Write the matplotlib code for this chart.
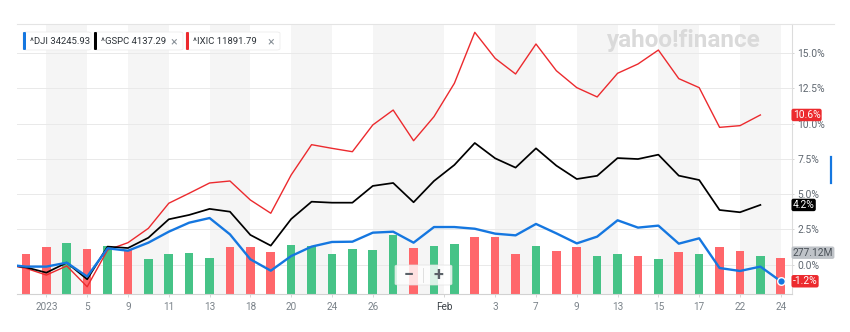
import numpy as np
import matplotlib
matplotlib.use("Agg")
import matplotlib.pyplot as plt
from matplotlib.patches import FancyBboxPatch
from matplotlib.lines import Line2D
import matplotlib.transforms as mtransforms

plt.rcParams['font.family'] = ['Roboto', 'DejaVu Sans']

# ---------------- data ----------------
dates = np.array([
    '2022-12-30', '2023-01-03', '2023-01-04', '2023-01-05', '2023-01-06', '2023-01-09',
    '2023-01-10', '2023-01-11', '2023-01-12', '2023-01-13', '2023-01-17', '2023-01-18',
    '2023-01-19', '2023-01-20', '2023-01-23', '2023-01-24', '2023-01-25', '2023-01-26',
    '2023-01-27', '2023-01-30', '2023-01-31', '2023-02-01', '2023-02-02', '2023-02-03',
    '2023-02-06', '2023-02-07', '2023-02-08', '2023-02-09', '2023-02-10', '2023-02-13',
    '2023-02-14', '2023-02-15', '2023-02-16', '2023-02-17', '2023-02-21', '2023-02-22',
    '2023-02-23', '2023-02-24'], dtype='datetime64[D]')

tick_dates = np.array([
    '2023-01-01', '2023-01-05', '2023-01-09', '2023-01-11', '2023-01-13', '2023-01-18',
    '2023-01-20', '2023-01-24', '2023-01-26', '2023-02-01', '2023-02-03', '2023-02-07',
    '2023-02-09', '2023-02-13', '2023-02-15', '2023-02-17', '2023-02-22', '2023-02-24'],
    dtype='datetime64[D]')
tick_labels = ['2023', '5', '9', '11', '13', '18', '20', '24', '26', 'Feb',
               '3', '7', '9', '13', '15', '17', '22', '24']

base_pct = 0.0  # previous close reference

dji_pct = [-0.15, -0.15, 0.13, -0.86, 1.15, 0.98, 1.55, 2.33, 2.97, 3.30, 2.14, 0.37,
           -0.44, 0.60, 1.27, 1.60, 1.62, 2.26, 2.33, 1.55, 2.66, 2.66, 2.54, 2.19,
           2.07, 2.88, 2.21, 1.50, 1.98, 3.14, 2.62, 2.76, 1.48, 1.86, -0.25, -0.46,
           -0.15, -1.19]
gspc_pct = [-0.20, -0.58, 0.13, -1.05, 1.27, 1.17, 1.90, 3.21, 3.52, 3.95, 3.75, 2.10,
            1.34, 3.23, 4.46, 4.39, 4.39, 5.58, 5.79, 4.42, 5.93, 7.07, 8.63, 7.54,
            6.88, 8.25, 7.02, 6.07, 6.30, 7.56, 7.49, 7.80, 6.31, 6.00, 3.87, 3.71,
            4.23]
ixic_pct = [-0.27, -0.75, -0.10, -1.58, 1.03, 1.55, 2.57, 4.35, 5.06, 5.79, 5.93, 4.58,
            3.64, 6.36, 8.51, 8.25, 8.01, 9.91, 10.97, 8.79, 10.50, 12.87, 16.49, 14.64,
            13.53, 15.66, 13.76, 12.56, 11.90, 13.58, 14.24, 15.23, 13.20, 12.56, 9.74,
            9.86, 10.62]

volume_m = [303, 361, 387, 344, 366, 336, 267, 305, 311, 273, 361, 357, 323, 374, 366,
            303, 344, 336, 450, 349, 366, 379, 437, 433, 303, 366, 328, 357, 290, 305,
            292, 267, 323, 305, 357, 328, 290, 277.12]
volume_up = [0, 0, 1, 0, 1, 0, 1, 1, 1, 1, 0, 0, 0, 1, 1, 1, 1, 1, 1, 0, 1, 1, 0, 0,
             0, 1, 0, 0, 1, 1, 0, 1, 0, 1, 0, 0, 1, 0]

legend_names = ['^DJI', '^GSPC', '^IXIC']
legend_prices = ['34245.93', '4137.29', '11891.79']

y_ticks = [0.0, 2.5, 5.0, 7.5, 10.0, 12.5, 15.0]

# ---------------- style ----------------
C_DJI = '#1577e0'
C_GSPC = '#000000'
C_IXIC = '#ec2a2e'
C_RED_BAR = '#ff676b'
C_GREEN_BAR = '#46c387'
C_STRIPE = '#f5f5f5'
C_GRID = '#e9e9e9'
C_TEXT = '#5f6770'

W, H = 850, 332
fig = plt.figure(figsize=(W / 100, H / 100), dpi=100)
fig.patch.set_facecolor('white')


def fx(px):
    return px / W


def fy(py):
    return 1 - py / H


rect = [fx(17), fy(294), fx(792) - fx(17), fy(24) - fy(294)]
ax_bg = fig.add_axes(rect)
ax_vol = fig.add_axes(rect, sharex=ax_bg)
ax = fig.add_axes(rect, sharex=ax_bg)

n = len(dates)
x = np.arange(n)
is_month = np.array([not s.isdigit() for s in tick_labels])
tick_pos = np.searchsorted(dates, tick_dates) - 0.5 * is_month

ax_bg.set_xlim(-0.44, n - 1 + 0.55)
ylim = (-2.095, 17.08)

# background: stripes + grid
for a, b in zip(tick_pos[0::2], tick_pos[1::2]):
    ax_bg.axvspan(a, b, color=C_STRIPE, lw=0, zorder=0)
ax_bg.set_ylim(*ylim)
for yt in y_ticks:
    ax_bg.axhline(yt, color=C_GRID, lw=0.7, zorder=1)
ax_bg.axis('off')

# volume bars
bar_colors = [C_GREEN_BAR if u else C_RED_BAR for u in volume_up]
ax_vol.bar(x, volume_m, width=0.42, color=bar_colors, zorder=2)
ax_vol.set_ylim(0, 2061)
ax_vol.axis('off')
ax_vol.patch.set_visible(False)


# percent lines (prefixed with the reference close)
def series_x(vals):
    return np.arange(-1, len(vals))


ax.plot(series_x(ixic_pct), [base_pct] + ixic_pct, color=C_IXIC, lw=1.0, zorder=3)
ax.plot(series_x(gspc_pct), [base_pct] + gspc_pct, color=C_GSPC, lw=1.25, zorder=4)
ax.plot(series_x(dji_pct), [base_pct] + dji_pct, color=C_DJI, lw=1.7, zorder=5,
        solid_joinstyle='round')
ax.plot([x[len(dji_pct) - 1]], [dji_pct[-1]], 'o', color=C_DJI, ms=5.5,
        mec='white', mew=1.0, zorder=6)

ax.set_ylim(*ylim)
ax.patch.set_visible(False)
for s in ['left', 'top']:
    ax.spines[s].set_visible(False)
ax.spines['right'].set_color('#dcdcdc')
ax.spines['bottom'].set_color('#d2d2d2')
ax.spines['right'].set_linewidth(0.8)
ax.spines['bottom'].set_linewidth(0.8)

ax.yaxis.tick_right()
ax.set_yticks(y_ticks)
ax.set_yticklabels([f'{v:.1f}%' for v in y_ticks])
ax.tick_params(axis='y', length=1.5, width=0.6, color='#cfcfcf', pad=2.2,
               labelsize=7.4, labelcolor=C_TEXT)
ax.set_xticks(tick_pos)
ax.set_xticklabels(tick_labels)
ax.tick_params(axis='x', length=2.5, width=0.6, color='#cfcfcf', pad=3.2,
               labelsize=7.2, labelcolor='#7b838a')
for lbl, m in zip(ax.get_xticklabels(), is_month):
    if m:
        lbl.set_color('#3c4248')

# right-side value labels
trans_r = mtransforms.blended_transform_factory(ax.transAxes, ax.transData)
trans_rv = mtransforms.blended_transform_factory(ax.transAxes, ax_vol.transData)


def value_label(val, fc, tc, trans, txt, va='center'):
    ax.annotate(txt, xy=(1.0, val), xycoords=trans, xytext=(0.5, 0),
                textcoords='offset points', ha='left', va=va, fontsize=7.4,
                color=tc, annotation_clip=False, zorder=10,
                bbox=dict(boxstyle='round,pad=0.12,rounding_size=0.2', fc=fc,
                          ec='none'))


value_label(ixic_pct[-1], C_IXIC, 'white', trans_r, f'{ixic_pct[-1]:.1f}%')
value_label(gspc_pct[-1], C_GSPC, 'white', trans_r, f'{gspc_pct[-1]:.1f}%')
value_label(dji_pct[-1], C_IXIC if dji_pct[-1] < 0 else C_DJI, 'white', trans_r,
            f'{dji_pct[-1]:.1f}%')
value_label(volume_m[-1], '#bfc3c8', '#4a5158', trans_rv, f'{volume_m[-1]:.2f}M',
            va='bottom')

# top border line
fig.add_artist(Line2D([fx(17), fx(834)], [fy(24), fy(24)], color='#e4e4e4', lw=0.8))

# watermark
fig.text(fx(684), fy(40), 'yahoo!finance', ha='center', va='center', fontsize=17.5,
         fontweight='bold', color='#dadada', zorder=1)

# legend chips
chips = [(23, 91, C_DJI, False), (94, 183, C_GSPC, True), (186, 280, C_IXIC, True)]
for (x0, x1, col, closable), name, price in zip(chips, legend_names, legend_prices):
    fig.add_artist(FancyBboxPatch((fx(x0), fy(50)), fx(x1) - fx(x0), fy(32) - fy(50),
                                  boxstyle='round,pad=0,rounding_size=0.004',
                                  fc='white', ec='#ececec', lw=0.6, zorder=5))
    fig.add_artist(FancyBboxPatch((fx(x0), fy(50)), fx(3), fy(32) - fy(50),
                                  boxstyle='round,pad=0,rounding_size=0.002',
                                  fc=col, ec='none', zorder=6))
    fig.text(fx(x0 + 7), fy(41.5), f'{name} {price}', ha='left', va='center',
             fontsize=6.8, color='#2c3238', zorder=7)
    if closable:
        fig.text(fx(x1 - 9), fy(41.5), '×', ha='center', va='center', fontsize=9,
                 color='#8a9299', zorder=7)

# zoom buttons
fig.add_artist(FancyBboxPatch((fx(395), fy(285)), fx(452) - fx(395), fy(265) - fy(285),
                              boxstyle='round,pad=0,rounding_size=0.004',
                              fc='white', ec='#e2e2e2', lw=0.6, alpha=0.8, zorder=8))
fig.add_artist(Line2D([fx(423), fx(423)], [fy(268), fy(282)], color='#e0e0e0',
                      lw=0.7, zorder=9))
fig.text(fx(409), fy(275), '−', ha='center', va='center', fontsize=13,
         fontweight='bold', color='#5a6168', zorder=9)
fig.text(fx(438), fy(275), '+', ha='center', va='center', fontsize=13,
         fontweight='bold', color='#5a6168', zorder=9)

# side indicator
fig.add_artist(Line2D([fx(831), fx(831)], [fy(157), fy(183)], color=C_DJI, lw=1.6))

fig.savefig('out.png', dpi=100)
